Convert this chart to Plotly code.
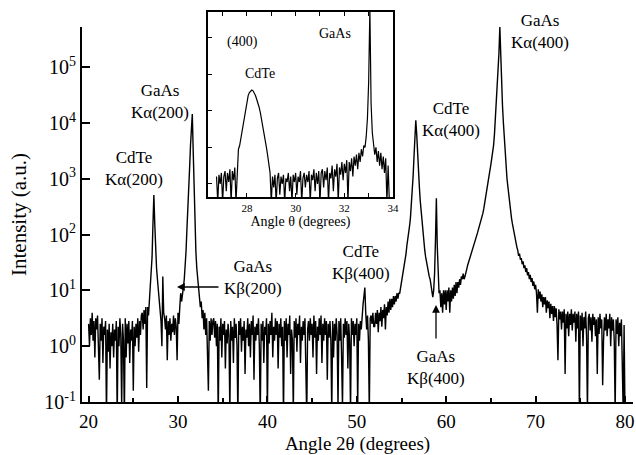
import plotly.graph_objects as go

# ---------------- Main spectrum: log10(intensity), 0.1 deg steps, per segment ----------------
seg_20_26 = [0.4, 0.0, 0.5, 0.2, 0.6, 0.1, 0.45, -0.2, 0.5, 0.3,
             0.55, 0.0, -0.6, 0.4, 0.1, 0.5, -0.3, 0.35, 0.2, 0.45,
             -1.3, 0.3, -0.1, 0.4, -0.4, 0.25, 0.0, 0.4, -0.2, 0.3,
             0.1, 0.45, -1.3, 0.35, 0.0, 0.5, 0.2, -1.1, 0.4, 0.1,
             -1.3, 0.5, -0.2, 0.4, 0.05, 0.45, -0.3, 0.3, 0.1, 0.45,
             -0.8, 0.35, 0.0, 0.4, 0.15, 0.5, -0.1, 0.45, 0.2, 0.55]
seg_26_28 = [0.6, 0.3, 0.65, 0.4, 0.7, -0.75, 0.7, 0.55, 0.8, 0.9,
             1.2, 1.6, 2.2, 2.71, 2.2, 1.7, 1.4, 1.2, 1.0, 0.9]
seg_28_30 = [0.75, 0.45, 0.0, 1.25, 0.6, 0.5, 0.3, 0.55, -0.25, 0.45,
             0.2, 0.5, 0.1, 0.4, 0.25, 0.55, 0.2, 0.5, 0.35, -0.25,
             0.6, 0.4, 0.7, 0.95, 0.8, 1.0]
seg_30_34 = [1.05, 1.2, 1.4, 1.7, 2.1, 2.4, 2.8, 3.2, 3.6, 4.0,
             4.16, 3.5, 2.7, 2.2, 1.7, 1.4, 1.2, 1.0, 0.85, 0.7,
             0.8, 0.5, 0.65, 0.3, 0.6, 0.2, 0.5, -0.3, -0.8, 0.45,
             0.1, 0.5, 0.2, 0.45]
seg_34_48 = [0.5, 0.15, 0.45, 0.0, 0.4, -1.3, 0.35, 0.1, 0.5, -0.2,
             0.4, 0.2, 0.45, -0.4, 0.3, 0.05, 0.4, 0.2, -1.2, 0.45,
             0.1, 0.35, -0.3, 0.5, 0.15, 0.4, 0.0, -1.3, 0.45, 0.2,
             0.5, -0.1, 0.35, 0.1, 0.45, -0.5, 0.3, 0.15, 0.5, 0.0,
             0.4, -0.2, 0.45, 0.2, 0.55, -0.6, 0.35, 0.1, 0.4, 0.2,
             0.5, 0.0, -1.3, 0.4, 0.1, 0.45, -0.3, 0.35, 0.2, 0.5,
             -1.2, 0.4, 0.05, 0.45, 0.2, 0.6, -0.2, 0.35, 0.1, 0.5,
             0.2, 0.45, -0.4, 0.4, 0.15, 0.5, 0.0, 0.35, -1.3, 0.45,
             0.1, 0.5, -0.2, 0.4, 0.2, 0.55, -0.5, 0.3, 0.1, -1.2,
             0.45, 0.15, 0.5, -0.1, 0.4, 0.2, 0.55, -0.3, 0.35, 0.1,
             0.45, 0.2, 0.5, -0.4, -1.3, 0.3, 0.45, 0.1, 0.5, 0.2,
             0.4, -0.2, 0.55, 0.15, 0.45, -0.5, 0.35, 0.1, 0.5, 0.2,
             0.55, -0.3, 0.4, 0.1, 0.5, 0.2, 0.45, -0.6, 0.4, 0.15,
             0.45, 0.1, -1.2, 0.45, -0.2, 0.4, 0.1, 0.5, 0.2, -1.1]
seg_48_52 = [0.45, 0.1, 0.5, -0.2, -1.1, 0.4, 0.15, 0.5, 0.2, 0.45,
             -0.4, 0.4, 0.1, -1.2, 0.5, 0.2, 0.45, 0.0, 0.4, 0.2,
             0.5, -1.1, 0.4, 0.1, 0.45, 0.3, 0.6, 0.75, 0.9, 1.05,
             0.6, 0.3, 0.55, 0.1, -1.2, 0.5, 0.55, 0.4, 0.6, 0.35]
seg_52_68 = [0.35, 0.6, 0.4, 0.65, 0.25, 0.6, 0.45, 0.7, 0.35, 0.65,
             0.5, 0.75, 0.3, 0.7, 0.55, 0.8, 0.6, 0.85, 0.65, 0.85,
             0.7, 0.9, 0.75, 0.9, 0.8, 0.95, 0.85, 0.95, 0.95, 1.05,
             1.1, 1.25, 1.35, 1.45, 1.55, 1.65, 1.8, 1.9, 2.0, 2.15,
             2.3, 2.5, 2.75, 3.05, 3.4, 3.75, 4.05, 3.8, 3.4, 3.1,
             2.85, 2.6, 2.4, 2.2, 2.0, 1.85, 1.72, 1.6, 1.5, 1.42,
             1.36, 1.25, 1.2, 1.1, 1.05, 0.88, 1.0, 1.3, 1.9, 2.65,
             1.8, 1.2, 0.95, 1.0, 0.7, 0.95, 0.6, 1.0, 0.75, 1.0,
             0.65, 1.0, 0.8, 1.05, 0.6, 1.0, 0.8, 1.05, 0.85, 1.1,
             0.9, 1.15, 0.95, 1.15, 1.05, 1.2, 1.1, 1.25, 1.2, 1.3,
             1.2, 1.25, 1.3, 1.38, 1.45, 1.5, 1.56, 1.62, 1.67, 1.72,
             1.77, 1.82, 1.87, 1.92, 1.98, 2.03, 2.09, 2.14, 2.2, 2.26,
             2.3, 2.38, 2.46, 2.55, 2.64, 2.74, 2.86, 2.96, 3.06, 3.16,
             3.26, 3.36, 3.46, 3.6, 3.8, 4.05, 4.35, 4.65, 4.95, 5.25,
             5.72, 5.15, 4.65, 4.3, 4.0, 3.7, 3.45, 3.2, 3.0, 2.86,
             2.7, 2.55, 2.42, 2.3, 2.2, 2.1, 2.0, 1.92, 1.85, 1.78]
seg_68_80 = [1.72, 1.62, 1.66, 1.55, 1.58, 1.47, 1.52, 1.4, 1.45, 1.33,
             1.4, 1.27, 1.33, 1.2, 1.28, 1.15, 1.22, 1.08, 1.16, 1.02,
             1.1, 0.95, 0.6, 1.02, 0.85, 0.98, 0.8, 0.93, 0.7, 0.88,
             0.75, 0.88, 0.6, 0.82, 0.68, 0.8, 0.5, 0.76, 0.58, 0.72,
             0.45, 0.72, 0.52, 0.68, 0.38, -0.25, 0.66, 0.48, 0.62, 0.3,
             0.62, 0.42, 0.66, -0.5, 0.58, 0.32, 0.62, 0.18, 0.58, 0.38,
             0.66, 0.28, 0.58, 0.42, 0.62, 0.08, 0.58, 0.32, 0.62, -1.2,
             0.55, 0.28, 0.6, 0.0, 0.52, 0.32, 0.62, 0.18, -1.2, 0.5,
             0.58, 0.28, 0.52, 0.08, 0.58, 0.38, 0.52, 0.18, 0.48, -0.5,
             0.52, 0.22, 0.58, 0.32, 0.48, -0.7, 0.1, 0.52, 0.28, 0.58,
             0.18, 0.48, 0.32, 0.58, 0.0, 0.52, 0.28, 0.48, 0.08, -1.2,
             0.48, 0.22, 0.52, 0.0, 0.42, 0.18, 0.48, -0.3, -1.2, 0.38,
             -1.2]
main_segments = [(20.0, seg_20_26), (26.0, seg_26_28), (28.0, seg_28_30), (30.6, seg_30_34),
                 (34.0, seg_34_48), (48.0, seg_48_52), (52.0, seg_52_68), (68.0, seg_68_80)]
main_step = 0.1

# ---------------- Inset (400) region: log10(intensity), 0.05 deg steps ----------------
ins_noise_left = [0.2, -0.5, 0.25, 0.0, 0.3, -0.5, 0.2, 0.35, -0.2, 0.3,
                  0.05, 0.4, -0.5, 0.35, 0.1, 0.45, -0.5, 0.5]
ins_cdte_peak = [0.95, 1.05, 1.25, 1.45, 1.65, 1.9, 2.1, 2.3, 2.42, 2.5,
                 2.55, 2.57, 2.55, 2.5, 2.42, 2.32, 2.22, 2.1, 1.95, 1.78,
                 1.6, 1.42, 1.22, 1.0, 0.78, 0.55, 0.3]
ins_noise_mid = [-0.5, 0.2, -0.1, 0.25, -0.5, 0.15, 0.3, -0.3, 0.2, 0.0,
                 0.25, -0.5, 0.15, 0.05, 0.3, -0.2, 0.2, -0.5, 0.25, 0.05,
                 0.3, -0.3, 0.2, 0.05, 0.35, -0.5, 0.15, 0.3, -0.1, 0.25,
                 0.05, 0.35, -0.5, 0.25, 0.1, 0.4, -0.2, 0.3, 0.0, 0.35,
                 -0.5, 0.3, 0.4, -0.1, 0.35, 0.1, 0.45, -0.5, 0.3, 0.15,
                 0.5, -0.2, 0.4, 0.2, 0.55, -0.5, 0.45, 0.25, 0.6, 0.1,
                 0.55, 0.3, 0.65, -0.5, 0.6, 0.35, 0.7, 0.2, 0.75, 0.5,
                 0.8, 0.4, 0.85, 0.6, 0.95, 0.75, 1.05, 1.0]
ins_gaas_peak = [1.3, 1.8, 2.8, 4.8, 2.2, 1.4, 1.1, 0.8, 1.0, 0.6,
                 0.9, 0.5, 0.85, 0.4, 0.75, 0.3, 0.7, -0.5, 0.5, -0.5]
inset_segments = [(26.75, ins_noise_left), (27.65, ins_cdte_peak),
                  (29.0, ins_noise_mid), (32.9, ins_gaas_peak)]
inset_step = 0.05


def expand(segments, step):
    xs, ys = [], []
    for start, vals in segments:
        for i, v in enumerate(vals):
            xs.append(round(start + step * i, 3))
            ys.append(10 ** v)
    return xs, ys


angle_2theta, intensity = expand(main_segments, main_step)
angle_theta, inset_intensity = expand(inset_segments, inset_step)

# ---------------- Layout geometry ----------------
W, H = 636, 455
ML, MR, MT, MB = 82, 3, 8, 53
PW, PH = W - ML - MR, H - MT - MB


def P(px, py):
    return (px - ML) / PW, (H - MB - py) / PH


FONT = "Liberation Serif, Times New Roman, serif"

fig = go.Figure()
fig.add_trace(go.Scatter(x=angle_2theta, y=intensity, mode="lines",
                         line=dict(color="black", width=1.4), xaxis="x", yaxis="y",
                         showlegend=False, hoverinfo="skip"))
fig.add_trace(go.Scatter(x=angle_theta, y=inset_intensity, mode="lines",
                         line=dict(color="black", width=1.2), xaxis="x2", yaxis="y2",
                         showlegend=False, hoverinfo="skip"))

y_ticks = [0.1, 1, 10, 100, 1000, 10000, 100000]
y_text = ["10<sup>-1</sup>", "10<sup>0</sup>", "10<sup>1</sup>", "10<sup>2</sup>",
          "10<sup>3</sup>", "10<sup>4</sup>", "10<sup>5</sup>"]
x_ticks = [20, 30, 40, 50, 60, 70, 80]
x_minor = [25, 35, 45, 55, 65, 75]
inset_x_ticks = [28, 30, 32, 34]
inset_x_minor = [27, 29, 31, 33]

main_top = P(0, 27)[1]
ix0, iy1 = P(208, 12)
ix1, iy0 = P(393, 197)

fig.update_layout(
    width=W, height=H,
    margin=dict(l=ML, r=MR, t=MT, b=MB, pad=0, autoexpand=False),
    paper_bgcolor="white", plot_bgcolor="white",
    font=dict(family=FONT, color="black", size=19),
    xaxis=dict(domain=[0, 1], range=[19.262, 80.895], anchor="y", automargin=False,
               showline=True, linewidth=2, linecolor="black", mirror=False,
               ticks="inside", ticklen=6, tickwidth=1.5, tickcolor="black",
               tickvals=x_ticks, ticklabelstandoff=1,
               minor=dict(ticks="inside", tickvals=x_minor, ticklen=4,
                          tickwidth=1.5, tickcolor="black"),
               showgrid=False, zeroline=False,
               tickfont=dict(size=19, family=FONT),
               title=dict(text="Angle 2θ (degrees)", font=dict(size=19, family=FONT), standoff=8)),
    yaxis=dict(domain=[0, main_top], type="log", range=[-1, 5.72], anchor="x", automargin=False,
               showline=True, linewidth=2, linecolor="black", mirror=False,
               ticks="inside", ticklen=8, tickwidth=2, tickcolor="black",
               tickvals=y_ticks, ticktext=y_text,
               showgrid=False, zeroline=False,
               tickfont=dict(size=20, family=FONT),
               title=dict(text="Intensity (a.u.)", font=dict(size=21, family=FONT), standoff=12)),
    xaxis2=dict(domain=[ix0, ix1], range=[26.4, 34.0], anchor="y2", automargin=False,
                showline=True, linewidth=1.5, linecolor="black", mirror="allticks",
                ticks="inside", ticklen=4, tickwidth=1, tickcolor="black",
                tickvals=inset_x_ticks,
                minor=dict(ticks="inside", tickvals=inset_x_minor, ticklen=4,
                           tickwidth=1, tickcolor="black"),
                showgrid=False, zeroline=False,
                tickfont=dict(size=11, family=FONT),
                title=dict(text="Angle θ (degrees)", font=dict(size=14, family=FONT), standoff=0)),
    yaxis2=dict(domain=[iy0, iy1], type="log", range=[-0.36, 4.71], anchor="x2", automargin=False,
                showline=True, linewidth=1.5, linecolor="black", mirror=True,
                ticks="inside", ticklen=4, tickwidth=1, tickcolor="black",
                tickvals=[1, 10, 100, 1000, 10000], showticklabels=False,
                showgrid=False, zeroline=False),
)

labels = [
    ("CdTe<br>Kα(200)", 134, 168, 17),
    ("GaAs<br>Kα(200)", 160, 101, 17),
    ("GaAs<br>Kβ(200)", 253, 277.5, 17),
    ("CdTe<br>Kβ(400)", 361, 262.5, 17),
    ("GaAs<br>Kβ(400)", 436, 367.5, 17),
    ("CdTe<br>Kα(400)", 451, 120, 17),
    ("GaAs<br>Kα(400)", 540, 31, 17),
    ("(400)", 242, 42, 14),
    ("CdTe", 260, 74, 14),
    ("GaAs", 335, 33, 14),
]
for text, px, py, fs in labels:
    xp, yp = P(px, py)
    fig.add_annotation(x=xp, y=yp, xref="paper", yref="paper", text=text, showarrow=False,
                       xanchor="center", yanchor="middle", align="center",
                       font=dict(size=fs, family=FONT, color="black"))

# arrows pointing at the K-beta lines
for (hx, hy, ax, ay) in [(177, 287, 43, 0), (436, 305, 0, 35)]:
    xp, yp = P(hx, hy)
    fig.add_annotation(x=xp, y=yp, xref="paper", yref="paper", text="", showarrow=True,
                       ax=ax, ay=ay, axref="pixel", ayref="pixel",
                       arrowhead=2, arrowsize=1.2, arrowwidth=1.3, arrowcolor="black")

fig.write_html("out.html")
